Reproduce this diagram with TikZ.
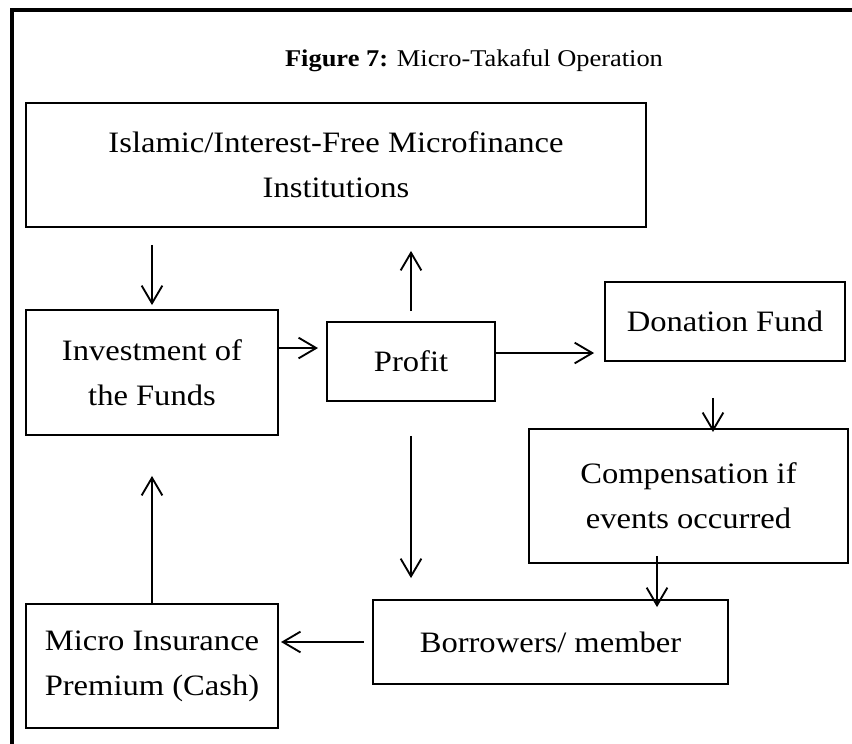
\documentclass[tikz,border=0pt]{standalone}
\usepackage{fontspec}
\setmainfont{Liberation Serif}[FakeStretch=1.1]
\usetikzlibrary{arrows.meta}

\begin{document}
\begin{tikzpicture}[x=0.4828pt, y=-0.4828pt,
  blk/.style={draw, line width=0.9pt, align=center, inner sep=0pt, font=\fontsize{14.3}{21.8}\selectfont},
  arr/.style={line width=0.9pt, -{Straight Barb[length=8.5pt, width=10pt]}}]
\useasboundingbox (0,0) rectangle (852,744);
% outer frame
\draw[line width=2.2pt] (12,744) -- (12,10) -- (852,10);
\node (title) at (474,61) {\fontsize{11.6}{14}\selectfont\textbf{Figure 7:} Micro-Takaful Operation};

\node[blk, minimum width=299.3pt, minimum height=59.9pt] (inst) at (336,165) {Islamic/Interest-Free Microfinance\\Institutions};
\node[blk, minimum width=121.7pt, minimum height=60.4pt] (invest) at (152,372.5) {Investment of\\the Funds};
\node[blk, minimum width=81.1pt, minimum height=38.1pt] (profit) at (411,361.5) {Profit};
\node[blk, minimum width=115.9pt, minimum height=38.1pt] (donation) at (725,321.5) {Donation Fund};
\node[blk, minimum width=154pt, minimum height=64.7pt] (comp) at (688.5,496) {Compensation if\\events occurred};
\node[blk, minimum width=171.4pt, minimum height=40.6pt] (borrow) at (550.5,642) {Borrowers/ member};
\node[blk, minimum width=121.7pt, minimum height=59.9pt] (premium) at (152,666) {Micro Insurance\\Premium (Cash)};

\draw[arr, shorten <=8.2pt, shorten >=1.9pt] (inst.south -| invest.north) -- (invest.north);
\draw[arr, shorten >=3.9pt] ([yshift=6.5pt]profit.west -| invest.east) -- ([yshift=6.5pt]profit.west);
\draw[arr, shorten <=4.8pt, shorten >=11.1pt] (profit.north) -- (profit.north |- inst.south);
\draw[arr, shorten >=4.8pt] ([yshift=4.1pt]profit.east) -- ([yshift=4.1pt]profit.east -| donation.west);
\draw[arr, shorten <=17.4pt, shorten >=-1.9pt] ([xshift=-5.8pt]donation.south) -- ([xshift=-5.8pt]donation.south |- comp.north);
\draw[arr, shorten <=16.4pt, shorten >=10.1pt] (profit.south) -- (profit.south |- borrow.north);
\draw[arr, shorten <=-3.9pt, shorten >=-3.9pt] ([xshift=-15.2pt]comp.south) -- ([xshift=-15.2pt]comp.south |- borrow.north);
\draw[arr, shorten <=3.9pt, shorten >=1pt] (borrow.west) -- (borrow.west -| premium.east);
\draw[arr, shorten >=19.3pt] (premium.north) -- (premium.north |- invest.south);
\end{tikzpicture}
\end{document}
